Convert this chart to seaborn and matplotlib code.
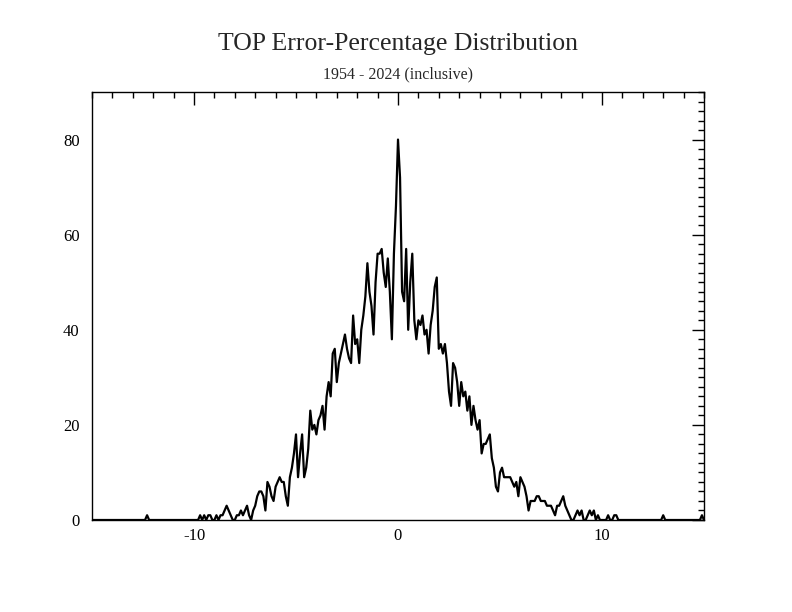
import numpy as np
import pandas as pd
import seaborn as sns
import matplotlib
matplotlib.use("Agg")
import matplotlib.pyplot as plt
from matplotlib.ticker import MultipleLocator

# error-percentage bins, 0.1 wide, from -15.0 to 15.0
bins = np.round(np.linspace(-15.0, 15.0, 301), 1)

# counts per bin, one row per unit of error (-15.0 .. -14.1, -14.0 .. -13.1, ...)
counts = [
    0, 0, 0, 0, 0, 0, 0, 0, 0, 0,
    0, 0, 0, 0, 0, 0, 0, 0, 0, 0,
    0, 0, 0, 0, 0, 0, 0, 1, 0, 0,
    0, 0, 0, 0, 0, 0, 0, 0, 0, 0,
    0, 0, 0, 0, 0, 0, 0, 0, 0, 0,
    0, 0, 0, 1, 0, 1, 0, 1, 1, 0,
    0, 1, 0, 1, 1, 2, 3, 2, 1, 0,
    0, 1, 1, 2, 1, 2, 3, 1, 0, 2,
    3, 5, 6, 6, 5, 2, 8, 7, 5, 4,
    7, 8, 9, 8, 8, 5, 3, 9, 11, 14,
    18, 9, 14, 18, 9, 11, 15, 23, 19, 20,
    18, 21, 22, 24, 19, 26, 29, 26, 35, 36,
    29, 33, 35, 37, 39, 36, 34, 33, 43, 37,
    38, 33, 40, 43, 47, 54, 48, 45, 39, 50,
    56, 56, 57, 52, 49, 55, 48, 38, 56, 66,
    80, 72, 48, 46, 57, 40, 50, 56, 42, 38,
    42, 41, 43, 39, 40, 35, 41, 44, 49, 51,
    36, 37, 35, 37, 33, 27, 24, 33, 32, 29,
    24, 29, 26, 27, 23, 26, 20, 24, 21, 19,
    21, 14, 16, 16, 17, 18, 13, 11, 7, 6,
    10, 11, 9, 9, 9, 9, 8, 7, 8, 5,
    9, 8, 7, 5, 2, 4, 4, 4, 5, 5,
    4, 4, 4, 3, 3, 3, 2, 1, 3, 3,
    4, 5, 3, 2, 1, 0, 0, 1, 2, 1,
    2, 0, 0, 1, 2, 1, 2, 0, 1, 0,
    0, 0, 0, 1, 0, 0, 1, 1, 0, 0,
    0, 0, 0, 0, 0, 0, 0, 0, 0, 0,
    0, 0, 0, 0, 0, 0, 0, 0, 0, 0,
    1, 0, 0, 0, 0, 0, 0, 0, 0, 0,
    0, 0, 0, 0, 0, 0, 0, 0, 0, 1,
    0,
]

title = "TOP Error-Percentage Distribution"
subtitle = "1954 - 2024 (inclusive)"

df = pd.DataFrame({"pct": bins, "count": counts})

sns.set_style("white")
plt.rcParams["font.family"] = ["Liberation Serif", "DejaVu Serif"]
plt.rcParams["axes.unicode_minus"] = False

fig = plt.figure(figsize=(7.92, 6.12), dpi=100)
ax = fig.add_axes([92 / 792, 1 - 520 / 612, 612 / 792, 428 / 612])

sns.lineplot(data=df, x="pct", y="count", color="black", linewidth=1.6, ax=ax)

ax.set_xlim(-15, 15)
ax.set_ylim(0, 90)
ax.set_xlabel("")
ax.set_ylabel("")
ax.xaxis.set_major_locator(MultipleLocator(10))
ax.xaxis.set_minor_locator(MultipleLocator(1))
ax.yaxis.set_major_locator(MultipleLocator(20))
ax.yaxis.set_minor_locator(MultipleLocator(2))
ax.tick_params(which="both", direction="in", top=True, right=True,
               colors="black", width=1, labelsize=12)
ax.tick_params(which="major", length=9)
ax.tick_params(which="minor", length=4.5)
ax.tick_params(axis="y", which="major", pad=9)
ax.tick_params(axis="x", which="major", pad=6)
for s in ax.spines.values():
    s.set_color("black")
    s.set_linewidth(1)

fig.text(398 / 792, 1 - 44 / 612, title, ha="center", va="center", fontsize=18.5)
fig.text(398 / 792, 1 - 74 / 612, subtitle, ha="center", va="center", fontsize=11.5)

fig.savefig("out.png", dpi=100, facecolor="white")
